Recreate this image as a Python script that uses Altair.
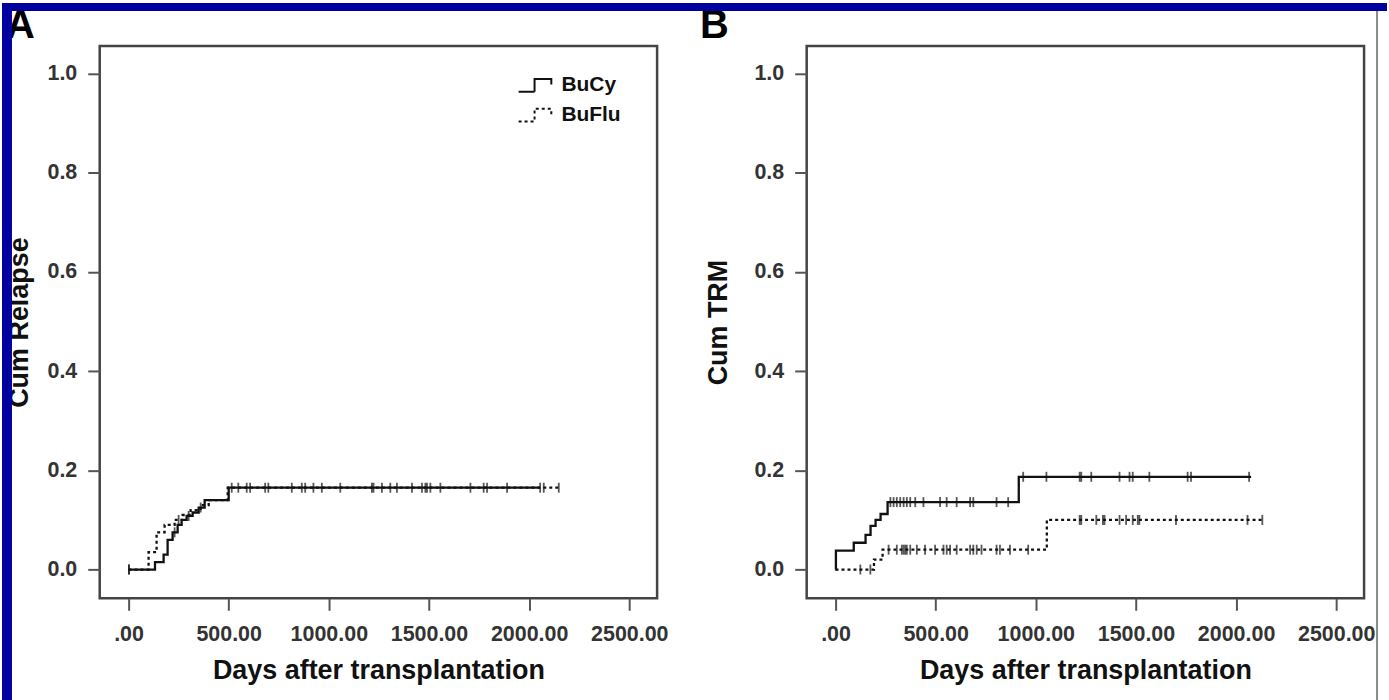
import altair as alt
import pandas as pd

# ---------------- data ----------------
groups = ["BuCy", "BuFlu"]
x_ticks = [0, 500, 1000, 1500, 2000, 2500]
y_ticks = [0.0, 0.2, 0.4, 0.6, 0.8, 1.0]

# Panel A: cumulative relapse (step curves)
a_bucy_days = [0, 132, 175, 195, 220, 245, 265, 290, 320, 350, 380, 500, 2055]
a_bucy_vals = [0, 0.015, 0.03, 0.06, 0.075, 0.09, 0.10, 0.108, 0.115, 0.125, 0.14, 0.165, 0.165]
a_buflu_days = [0, 100, 140, 180, 230, 270, 310, 360, 400, 495, 2150]
a_buflu_vals = [0, 0.035, 0.075, 0.09, 0.10, 0.11, 0.12, 0.13, 0.14, 0.165, 0.165]
a_bucy_cens = [2, 230, 300, 360, 515, 590, 682, 815, 882, 965, 1215, 1265, 1340,
               1465, 1490, 1557, 1773, 1890, 2055]
a_buflu_cens = [2, 250, 548, 607, 698, 865, 923, 1057, 1223, 1307, 1415, 1482,
                1507, 1707, 1790, 2073, 2148]

# Panel B: cumulative TRM (step curves)
b_bucy_days = [0, 2, 91, 150, 175, 200, 225, 260, 915, 2075]
b_bucy_vals = [0, 0.038, 0.054, 0.07, 0.088, 0.10, 0.112, 0.136, 0.187, 0.187]
b_buflu_days = [0, 192, 235, 1055, 2140]
b_buflu_vals = [0, 0.02, 0.04, 0.10, 0.10]
b_bucy_cens = [274, 290, 306, 323, 340, 356, 373, 398, 439, 522, 555, 605, 672, 688,
               804, 862, 937, 1053, 1219, 1227, 1277, 1418, 1468, 1484, 1567, 1758,
               1775, 2065]
b_buflu_cens = [124, 174, 265, 306, 331, 340, 348, 356, 373, 406, 447, 497, 539, 555,
                572, 605, 672, 688, 705, 729, 804, 821, 871, 962, 1219, 1227, 1302,
                1335, 1343, 1418, 1451, 1484, 1509, 1517, 1700, 2057, 2131]

panel_letters = ["A", "B"]

BLUE = "#0000A0"
INK = "#111111"
FONT = "Liberation Sans"


def step_value(days, vals, d):
    v = vals[0]
    for dd, vv in zip(days, vals):
        if dd <= d:
            v = vv
    return v


def build_frames(c_days, c_vals, f_days, f_vals, c_cens, f_cens):
    lines = pd.DataFrame(
        [{"group": "BuCy", "day": d, "val": v} for d, v in zip(c_days, c_vals)]
        + [{"group": "BuFlu", "day": d, "val": v} for d, v in zip(f_days, f_vals)]
    )
    cens = pd.DataFrame(
        [{"group": "BuCy", "day": d, "val": step_value(c_days, c_vals, d)} for d in c_cens]
        + [{"group": "BuFlu", "day": d, "val": step_value(f_days, f_vals, d)} for d in f_cens]
    )
    return lines, cens


STEP_SYMBOL = "M-2.3,0.8H-0.3V-0.8H1.8V-0.1"


def panel(lines, cens, ytitle, ytitle_pad, decorations=None):
    x = alt.X(
        "day:Q",
        scale=alt.Scale(domain=[-144, 2639], nice=False, zero=False),
        axis=alt.Axis(
            values=x_ticks,
            labelExpr="datum.value == 0 ? '.00' : format(datum.value, '.2f')",
            title="Days after transplantation",
            titleFontSize=27, titleFont=FONT, titleFontWeight="bold", titleColor=INK,
            titlePadding=13,
            labelFontSize=21.5, labelFont=FONT, labelFontWeight="bold", labelColor="#333333",
            labelPadding=13, tickSize=12, tickWidth=2, tickColor="#555555",
            domain=False, grid=False, labelFlush=False, labelOverlap=False,
        ),
    )
    y = alt.Y(
        "val:Q",
        scale=alt.Scale(domain=[-0.058, 1.056], nice=False, zero=False),
        axis=alt.Axis(
            values=y_ticks, format=".1f",
            title=ytitle,
            titleFontSize=27, titleFont=FONT, titleFontWeight="bold", titleColor=INK,
            titlePadding=ytitle_pad,
            labelFontSize=21.5, labelFont=FONT, labelFontWeight="bold", labelColor="#333333",
            labelPadding=11, tickSize=12, tickWidth=2, tickColor="#555555",
            domain=False, grid=False, labelFlush=False, labelOverlap=False,
        ),
    )
    dash = alt.StrokeDash(
        "group:N",
        scale=alt.Scale(domain=groups, range=[[1, 0], [3, 3]]),
        legend=alt.Legend(
            title=None, orient="none", legendX=428, legendY=29,
            symbolType=STEP_SYMBOL, symbolSize=256, symbolStrokeWidth=2,
            symbolStrokeColor=INK, symbolFillColor="transparent",
            labelFontSize=21, labelFont=FONT, labelFontWeight="bold", labelColor=INK,
            labelOffset=14, rowPadding=8,
        ),
    )
    line_layer = alt.Chart(lines).mark_line(
        interpolate="step-after", strokeWidth=2.3, color=INK
    ).encode(x=x, y=y, strokeDash=dash, detail="group:N")
    cens_layer = alt.Chart(cens).mark_tick(
        orient="vertical", size=10, thickness=1.8, color=INK
    ).encode(x=x, y=y)
    layers = [line_layer, cens_layer]
    if decorations:
        layers.extend(decorations)
    return alt.layer(*layers).properties(width=559, height=554)


a_lines, a_cens = build_frames(a_bucy_days, a_bucy_vals, a_buflu_days, a_buflu_vals,
                               a_bucy_cens, a_buflu_cens)
b_lines, b_cens = build_frames(b_bucy_days, b_bucy_vals, b_buflu_days, b_buflu_vals,
                               b_bucy_cens, b_buflu_cens)

# page decorations (blue slide border, panel letters), drawn in panel A's frame
one = alt.Data(values=[{"k": 1}])
decor = []
for letter, lx in zip(panel_letters, [-94, 602]):
    decor.append(
        alt.Chart(one).mark_text(
            text=letter, fontSize=40, font=FONT, fontWeight="bold", color="#000000",
            align="left", baseline="top",
        ).encode(x=alt.value(lx), y=alt.value(-40))
    )
decor.append(
    alt.Chart(one).mark_rule(color="#8a8a8a", strokeWidth=2).encode(
        x=alt.value(1281), y=alt.value(-35), y2=alt.value(657)
    )
)
for (x0, x1, y0, y1) in [(-98, -88, -43, 657), (-98, 1291, -43, -35)]:
    decor.append(
        alt.Chart(one).mark_rect(color=BLUE).encode(
            x=alt.value(x0), x2=alt.value(x1), y=alt.value(y0), y2=alt.value(y1)
        )
    )

panel_a = panel(a_lines, a_cens, "Cum Relapse", 14, decorations=decor)
panel_b = panel(b_lines, b_cens, "Cum TRM", 22)

chart = alt.hconcat(panel_a, panel_b, spacing=150, bounds="flush").properties(
    padding=0, background="white"
).configure_view(stroke="#444444", strokeWidth=2.5)

chart.save("out.html", embed_options={"renderer": "svg", "actions": False})
